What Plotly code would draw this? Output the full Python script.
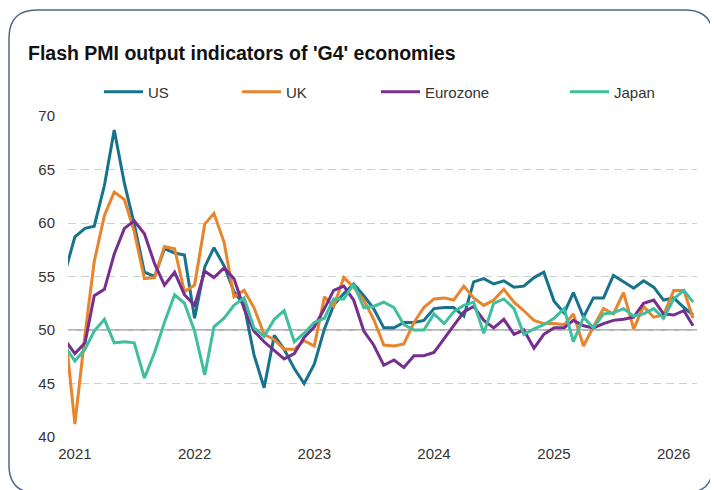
import plotly.graph_objects as go
import pandas as pd

# ---------------- data ----------------
months = pd.date_range("2020-12-01", "2026-03-01", freq="MS")

us = [55.3,
      58.7, 59.5, 59.7, 63.5, 68.7, 63.7, 59.9, 55.4, 55.0, 57.6, 57.2, 57.0,
      51.1, 55.9, 57.7, 56.0, 53.6, 52.3, 47.7, 44.6, 49.5, 48.2, 46.4, 45.0,
      46.8, 50.1, 52.3, 53.4, 54.3, 53.2, 52.0, 50.2, 50.2, 50.7, 50.7, 50.9,
      52.0, 52.1, 52.1, 51.3, 54.5, 54.8, 54.3, 54.6, 54.0, 54.1, 54.9, 55.4,
      52.7, 51.6, 53.5, 51.2, 53.0, 53.0, 55.1, 54.5, 53.9, 54.6, 54.0, 52.8,
      53.0, 52.1, 51.4]

uk = [50.4,
      41.2, 49.6, 56.4, 60.7, 62.9, 62.2, 59.2, 54.8, 54.9, 57.8, 57.6, 53.6,
      54.2, 59.9, 60.9, 58.2, 53.1, 53.7, 52.1, 49.6, 49.1, 48.2, 48.2, 49.0,
      48.5, 53.1, 52.2, 54.9, 54.0, 52.8, 51.0, 48.6, 48.5, 48.7, 50.7, 52.1,
      52.9, 53.0, 52.8, 54.1, 53.0, 52.3, 52.8, 53.8, 52.6, 51.8, 50.9, 50.6,
      50.6, 50.5, 51.5, 48.5, 50.3, 52.0, 51.5, 53.5, 50.1, 52.2, 51.2, 51.4,
      53.7, 53.7, 51.1]

eurozone = [49.1,
            47.8, 48.8, 53.2, 53.8, 57.1, 59.5, 60.2, 59.0, 56.2, 54.2, 55.4, 53.3,
            52.3, 55.5, 54.9, 55.8, 54.8, 52.0, 49.9, 48.9, 48.1, 47.3, 47.8, 49.3,
            50.3, 52.0, 53.7, 54.1, 52.8, 49.9, 48.6, 46.7, 47.2, 46.5, 47.6, 47.6,
            47.9, 49.2, 50.3, 51.7, 52.2, 50.9, 50.2, 51.0, 49.6, 50.0, 48.3, 49.6,
            50.2, 50.2, 50.9, 50.4, 50.2, 50.6, 50.9, 51.0, 51.2, 52.5, 52.8, 51.5,
            51.4, 51.8, 50.4]

japan = [48.5,
         47.1, 48.2, 49.9, 51.0, 48.8, 48.9, 48.8, 45.5, 47.9, 50.7, 53.3, 52.5,
         49.9, 45.8, 50.3, 51.1, 52.3, 53.0, 50.2, 49.4, 51.0, 51.8, 48.9, 49.7,
         50.7, 51.1, 52.9, 52.9, 54.3, 52.1, 52.2, 52.6, 52.1, 50.5, 50.0, 50.0,
         51.5, 50.6, 51.7, 52.3, 52.6, 49.7, 52.5, 52.9, 52.0, 49.6, 50.1, 50.5,
         51.1, 52.0, 48.9, 51.2, 50.2, 51.5, 51.6, 52.0, 51.3, 51.5, 52.0, 51.1,
         52.9, 53.7, 52.6]

series_names = ["US", "UK", "Eurozone", "Japan"]
series_values = [us, uk, eurozone, japan]
series_colors = ["#17728b", "#e8842c", "#772f8f", "#3ebf9f"]

tick_years = ["2021", "2022", "2023", "2024", "2025", "2026"]
y_ticks = [40, 45, 50, 55, 60, 65, 70]

# ---------------- layout geometry ----------------
# the page body has an 8px margin, so the figure sits at (8, 8) in the window
OFF = 8
W, H = 710, 482
ML, MR, MT, MB = 60, 21, 108, 53
PW, PH = W - ML - MR, H - MT - MB


def px(x):
    """window pixel x -> paper x"""
    return (x - OFF - ML) / PW


def py(y):
    """window pixel y -> paper y"""
    return (H - MB - (y - OFF)) / PH


FONT = "Liberation Sans, Arial, sans-serif"

fig = go.Figure()

legend_left = [99, 237, 376, 565]
for i, (name, vals, col) in enumerate(zip(series_names, series_values, series_colors)):
    lg = "legend" if i == 0 else f"legend{i + 1}"
    fig.add_trace(go.Scatter(
        x=months, y=vals, mode="lines", name=name,
        line=dict(color=col, width=3),
        legend=lg, showlegend=True,
    ))

legend_common = dict(
    orientation="h", xanchor="left", yanchor="middle",
    bgcolor="rgba(0,0,0,0)", borderwidth=0, itemwidth=39,
    font=dict(family=FONT, size=15, color="#333333"),
)
layout_legends = {}
for i, lx in enumerate(legend_left):
    key = "legend" if i == 0 else f"legend{i + 1}"
    layout_legends[key] = dict(x=px(lx), y=py(92), **legend_common)

# rounded border (window pixel coordinates)
R = 28
x0, x1, y0, y1 = 9, 713, 10, 493
path = (
    f"M{px(x0)},{py(y0 + R)} Q{px(x0)},{py(y0)} {px(x0 + R)},{py(y0)} "
    f"L{px(x1 - R)},{py(y0)} Q{px(x1)},{py(y0)} {px(x1)},{py(y0 + R)} "
    f"L{px(x1)},{py(y1 - R)} Q{px(x1)},{py(y1)} {px(x1 - R)},{py(y1)} "
    f"L{px(x0 + R)},{py(y1)} Q{px(x0)},{py(y1)} {px(x0)},{py(y1 - R)} Z"
)

fig.update_layout(
    width=W, height=H,
    margin=dict(l=ML, r=MR, t=MT, b=MB),
    paper_bgcolor="white", plot_bgcolor="white",
    title=dict(
        text="<b>Flash PMI output indicators of 'G4' economies</b>",
        x=(28 - OFF) / W, xanchor="left", xref="container",
        y=1 - (53 - OFF) / H, yanchor="middle", yref="container",
        font=dict(family=FONT, size=19.5, color="#111111"),
    ),
    shapes=[
        dict(type="line", xref="paper", yref="y", x0=0, x1=1, y0=50, y1=50,
             line=dict(color="#9a9a9a", width=1.5), layer="below"),
        dict(type="path", xref="paper", yref="paper", path=path,
             line=dict(color="#4d6888", width=1.5), layer="above"),
    ],
    **layout_legends,
)

fig.update_xaxes(
    type="date",
    range=["2020-12-11", "2026-03-13"],
    tickvals=[pd.Timestamp(f"{y}-01-01") for y in tick_years],
    ticktext=tick_years,
    showgrid=False, zeroline=False, showline=False, ticks="",
    ticklabelstandoff=6,
    tickfont=dict(family=FONT, size=15, color="#333333"),
)
fig.update_yaxes(
    range=[40, 70],
    tickvals=y_ticks,
    showgrid=True, gridcolor="#cfcfcf", gridwidth=1.2, griddash="8px,5px",
    zeroline=False, showline=False, ticks="",
    ticklabelstandoff=12,
    tickfont=dict(family=FONT, size=15, color="#333333"),
)

fig.write_html("out.html")
